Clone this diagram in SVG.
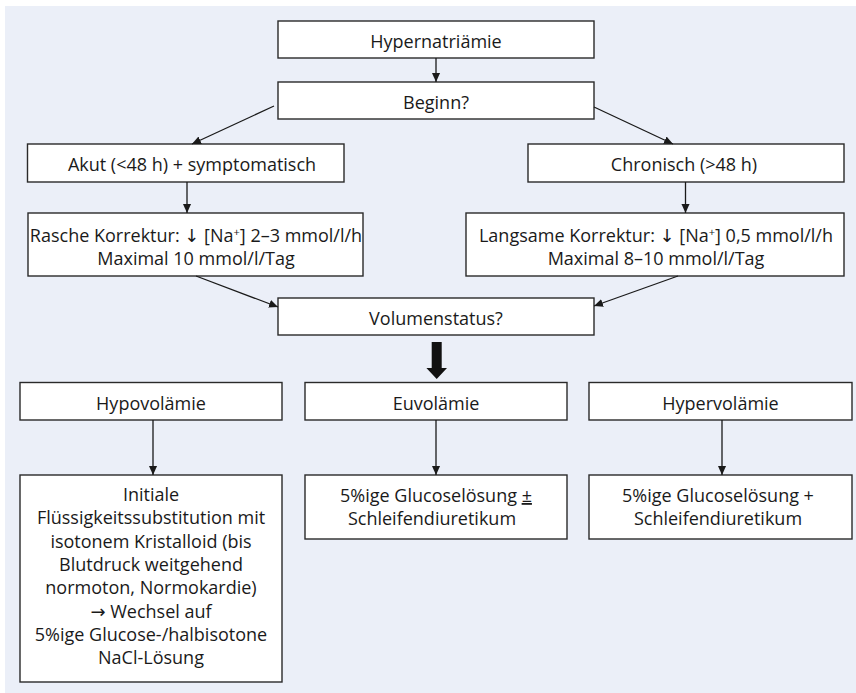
<svg xmlns="http://www.w3.org/2000/svg" width="856" height="693" viewBox="0 0 856 693">
<style>
.box{fill:#ffffff;stroke:#2a2a2a;stroke-width:1.4}
.t{font-family:"Open Sans","DejaVu Sans",sans-serif;font-size:18px;fill:#1a1a1a;text-anchor:middle}
.c{stroke:#1a1a1a;stroke-width:1.3;fill:none;marker-end:url(#ah)}
</style>
<defs>
<marker id="ah" viewBox="0 0 10 10" refX="10" refY="5" markerWidth="9" markerHeight="9" markerUnits="userSpaceOnUse" orient="auto">
<path d="M0,0.5 L10,5 L0,9.5 Z" fill="#1a1a1a"/>
</marker>
</defs>
<rect x="5" y="6" width="851" height="687" fill="#ebeff8"/>

<g id="n-hypernatriaemie">
<rect class="box" x="278" y="21" width="316" height="37"/>
<text class="t" x="436" y="48">Hypernatriämie</text>
</g>
<g id="n-beginn">
<rect class="box" x="278" y="82" width="316" height="37"/>
<text class="t" x="436" y="109">Beginn?</text>
</g>
<g id="n-akut">
<rect class="box" x="27.5" y="144" width="316.5" height="38"/>
<text class="t" x="192" y="171">Akut (&lt;48 h) + symptomatisch</text>
</g>
<g id="n-chronisch">
<rect class="box" x="528" y="144" width="316" height="38"/>
<text class="t" x="684" y="171">Chronisch (&gt;48 h)</text>
</g>
<g id="n-rasche">
<rect class="box" x="28" y="213" width="335" height="63"/>
<text class="t" x="196" y="242">Rasche Korrektur: ↓ [Na<tspan font-size="11" dy="-6">+</tspan><tspan dy="6">] 2–3 mmol/l/h</tspan></text>
<text class="t" x="196" y="265">Maximal 10 mmol/l/Tag</text>
</g>
<g id="n-langsame">
<rect class="box" x="466" y="213" width="378" height="63"/>
<text class="t" x="656" y="242">Langsame Korrektur: ↓ [Na<tspan font-size="11" dy="-6">+</tspan><tspan dy="6">] 0,5 mmol/l/h</tspan></text>
<text class="t" x="656" y="265">Maximal 8–10 mmol/l/Tag</text>
</g>
<g id="n-volumenstatus">
<rect class="box" x="278" y="298" width="316" height="37"/>
<text class="t" x="436" y="325">Volumenstatus?</text>
</g>
<g id="n-hypovolaemie">
<rect class="box" x="20" y="382.5" width="262" height="37.5"/>
<text class="t" x="151" y="409.5">Hypovolämie</text>
</g>
<g id="n-euvolaemie">
<rect class="box" x="305" y="382.5" width="262" height="37.5"/>
<text class="t" x="436" y="409.5">Euvolämie</text>
</g>
<g id="n-hypervolaemie">
<rect class="box" x="589" y="382.5" width="263" height="37.5"/>
<text class="t" x="720.5" y="409.5">Hypervolämie</text>
</g>
<g id="n-initiale">
<rect class="box" x="20" y="475" width="262" height="207"/>
<text class="t" x="151" y="501">Initiale</text>
<text class="t" x="151" y="524.3">Flüssigkeitssubstitution mit</text>
<text class="t" x="151" y="547.6">isotonem Kristalloid (bis</text>
<text class="t" x="151" y="570.9">Blutdruck weitgehend</text>
<text class="t" x="151" y="594.2">normoton, Normokardie)</text>
<text class="t" x="151" y="617.5">→ Wechsel auf</text>
<text class="t" x="151" y="640.8">5%ige Glucose-/halbisotone</text>
<text class="t" x="151" y="664.1">NaCl-Lösung</text>
</g>
<g id="n-euvo-therapie">
<rect class="box" x="305" y="475" width="262" height="64"/>
<text class="t" x="436" y="502">5%ige Glucoselösung <tspan text-decoration="underline">±</tspan></text>
<text class="t" x="432" y="525">Schleifendiuretikum</text>
</g>
<g id="n-hyper-therapie">
<rect class="box" x="589" y="475" width="263" height="64"/>
<text class="t" x="718" y="502">5%ige Glucoselösung +</text>
<text class="t" x="718" y="525">Schleifendiuretikum</text>
</g>

<g id="connectors">
<line class="c" x1="436" y1="58" x2="436" y2="82"/>
<line class="c" x1="274" y1="106" x2="192" y2="144"/>
<line class="c" x1="594" y1="107" x2="673" y2="144"/>
<line class="c" x1="187" y1="182" x2="187" y2="213"/>
<line class="c" x1="685.5" y1="182" x2="685.5" y2="213"/>
<line class="c" x1="196" y1="276" x2="278" y2="307"/>
<line class="c" x1="678" y1="276" x2="594" y2="306"/>
<polygon points="431.7,342 441.7,342 441.7,368 447,368 436.7,379 426.4,368 431.7,368" fill="#111111"/>
<line class="c" x1="153" y1="420" x2="153" y2="475"/>
<line class="c" x1="436" y1="420" x2="436" y2="475"/>
<line class="c" x1="722" y1="420" x2="722" y2="475"/>
</g>
</svg>
